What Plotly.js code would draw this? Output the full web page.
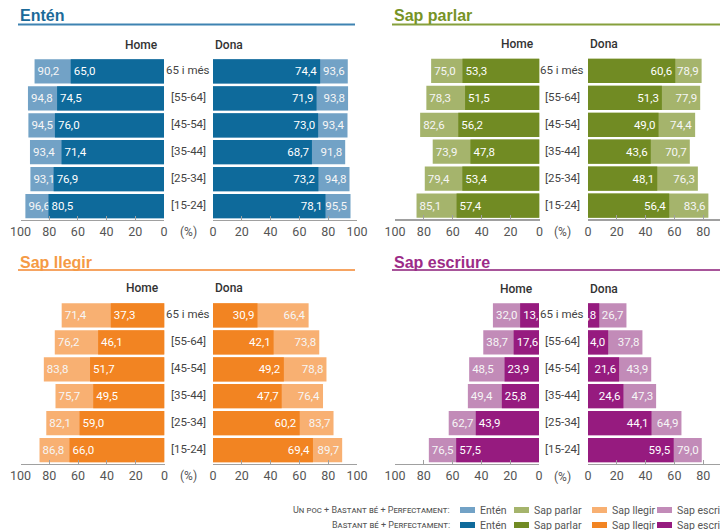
<!DOCTYPE html>
<html><head><meta charset="utf-8">
<script src="https://cdn.plot.ly/plotly-3.0.1.min.js"></script>
<style>html,body{margin:0;padding:0;overflow:hidden;background:#fff}#wrap{width:720px;height:530px;overflow:hidden;position:relative}#chart{width:760px;height:530px}</style>
</head><body><div id="wrap"><div id="chart"></div></div>
<script>
// ---------- DATA ----------
const ageGroups = ['[15-24]','[25-34]','[35-44]','[45-54]','[55-64]','65 i més'];
const panelTitles = ['Entén','Sap parlar','Sap llegir','Sap escriure'];
const sexLabels = ['Home','Dona'];
const tickValues = [0,20,40,60,80,100];
const legendRow1 = 'Un poc + Bastant bé + Perfectament:';
const legendRow2 = 'Bastant bé + Perfectament:';

// "Un poc + Bastant bé + Perfectament" (light)  /  "Bastant bé + Perfectament" (dark)
const entenHomeAny  = [96.6,93.1,93.4,94.5,94.8,90.2];
const entenHomeGood = [80.5,76.9,71.4,76.0,74.5,65.0];
const entenDonaAny  = [95.5,94.8,91.8,93.4,93.8,93.6];
const entenDonaGood = [78.1,73.2,68.7,73.0,71.9,74.4];

const parlarHomeAny  = [85.1,79.4,73.9,82.6,78.3,75.0];
const parlarHomeGood = [57.4,53.4,47.8,56.2,51.5,53.3];
const parlarDonaAny  = [83.6,76.3,70.7,74.4,77.9,78.9];
const parlarDonaGood = [56.4,48.1,43.6,49.0,51.3,60.6];

const llegirHomeAny  = [86.8,82.1,75.7,83.8,76.2,71.4];
const llegirHomeGood = [66.0,59.0,49.5,51.7,46.1,37.3];
const llegirDonaAny  = [89.7,83.7,76.4,78.8,73.8,66.4];
const llegirDonaGood = [69.4,60.2,47.7,49.2,42.1,30.9];

const escriureHomeAny  = [76.5,62.7,49.4,48.5,38.7,32.0];
const escriureHomeGood = [57.5,43.9,25.8,23.9,17.6,13.1];
const escriureDonaAny  = [79.0,64.9,47.3,43.9,37.8,26.7];
const escriureDonaGood = [59.5,44.1,24.6,21.6,14.0,7.8];

// ---------- STYLE ----------
const W = 760, H = 530;
const FONT = 'Roboto,"Liberation Sans",sans-serif';
const TFONT = '"Liberation Sans",Arial,sans-serif';
const lightColors = ['#72a2c6','#a5b46c','#f8b072','#c28bb8'];
const darkColors  = ['#0e6a9b','#718b23','#f28422','#961b7f'];
const titleColors = ['#1b6a99','#779326','#f59a45','#9c2b88'];
const lineColors  = ['#3f83b2','#86a03c','#f6a462','#a8559a'];

const px = x => x / W;
const py = y => 1 - y / H;
const fmt = v => v.toFixed(1).replace('.', ',');

// panel geometry in pixels
const panels = [
  {any:[entenHomeAny,entenDonaAny], good:[entenHomeGood,entenDonaGood], home:[20.5,164], dona:[213,357], y:[58,219.5], titleX:18, lineX:[18,355], titleY:16, lineY:24.5, headY:45, catX:188, pctY:232},
  {any:[parlarHomeAny,parlarDonaAny], good:[parlarHomeGood,parlarDonaGood], home:[395,539.5], dona:[588,732], y:[57.5,219], titleX:392, lineX:[392,760], titleY:16, lineY:24.5, headY:44, catX:562, pctY:232},
  {any:[llegirHomeAny,llegirDonaAny], good:[llegirHomeGood,llegirDonaGood], home:[20.5,164.5], dona:[213,357], y:[302,463.5], titleX:18, lineX:[18,355], titleY:262, lineY:270, headY:288, catX:188, pctY:476},
  {any:[escriureHomeAny,escriureDonaAny], good:[escriureHomeGood,escriureDonaGood], home:[395,539], dona:[588,732], y:[302,463.5], titleX:392, lineX:[392,760], titleY:262, lineY:270, headY:289, catX:562, pctY:477}
];

const data = [];
const layout = {
  width: W, height: H, margin:{l:0,r:0,t:0,b:0},
  paper_bgcolor:'#fff', plot_bgcolor:'rgba(0,0,0,0)',
  showlegend:false, barmode:'overlay', bargap:0.1,
  font:{family:FONT, size:12, color:'#444'},
  annotations:[], shapes:[]
};

panels.forEach((p, pi) => {
  [0,1].forEach(s => {
    const idx = pi*2 + s + 1;
    const xa = idx === 1 ? 'x' : 'x' + idx;
    const ya = idx === 1 ? 'y' : 'y' + idx;
    const xk = idx === 1 ? 'xaxis' : 'xaxis' + idx;
    const yk = idx === 1 ? 'yaxis' : 'yaxis' + idx;
    const dom = s === 0 ? p.home : p.dona;
    layout[xk] = {
      domain:[px(dom[0]), px(dom[1])], anchor:ya,
      range: s === 0 ? [100,0] : [0,100],
      tickvals: tickValues, ticktext: tickValues.map(String),
      ticks:'inside', ticklen:4, tickwidth:1, tickcolor:'#a0a0a0',
      showline:true, linecolor:'#a0a0a0', linewidth:1.5,
      showgrid:false, zeroline:false, fixedrange:true,
      tickfont:{family:FONT, size:12.5, color:'#555'}
    };
    layout[yk] = {
      domain:[py(p.y[1]), py(p.y[0])], anchor:xa,
      type:'category', categoryarray: ageGroups, range:[-0.5,5.5],
      visible:false, fixedrange:true
    };
    const common = {type:'bar', orientation:'h', y:ageGroups, xaxis:xa, yaxis:ya,
      textposition:'inside', insidetextanchor:'end', textangle:0, constraintext:'none',
      cliponaxis:false, hoverinfo:'skip', width:0.9};
    data.push(Object.assign({}, common, {
      x:p.any[s], text:p.any[s].map(fmt),
      marker:{color:lightColors[pi], line:{width:0}},
      insidetextfont:{family:FONT, size:11.5, color:'#f6f6f6'}
    }));
    data.push(Object.assign({}, common, {
      x:p.good[s], text:p.good[s].map(fmt),
      marker:{color:darkColors[pi], line:{width:0}},
      insidetextfont:{family:FONT, size:11.5, color:'#ffffff'}
    }));
    // category labels (centred between both halves)
    if (s === 1) {
      ageGroups.forEach(g => layout.annotations.push({
        xref:'paper', yref:ya, x:px(p.catX), y:g, text:g, showarrow:false,
        xanchor:'center', yanchor:'middle', yshift:1,
        font:{family:FONT, size:11.5, color:'#444'}
      }));
    }
  });
  // panel title + rule
  layout.annotations.push({xref:'paper', yref:'paper', x:px(p.titleX), y:py(p.titleY), text:'<b>'+panelTitles[pi]+'</b>',
    showarrow:false, xanchor:'left', yanchor:'middle', font:{family:TFONT, size:16, color:titleColors[pi]}});
  layout.shapes.push({type:'line', xref:'paper', yref:'paper', x0:px(p.lineX[0]), x1:px(p.lineX[1]), y0:py(p.lineY), y1:py(p.lineY),
    line:{color:lineColors[pi], width:2}});
  // Home / Dona headers
  layout.annotations.push({xref:'paper', yref:'paper', x:px(p.home[1]-4), y:py(p.headY), text:sexLabels[0],
    showarrow:false, xanchor:'right', yanchor:'middle', font:{family:FONT, size:12, weight:500, color:'#333'}});
  layout.annotations.push({xref:'paper', yref:'paper', x:px(p.dona[0]), y:py(p.headY), text:sexLabels[1],
    showarrow:false, xanchor:'left', yanchor:'middle', font:{family:FONT, size:12, weight:500, color:'#333'}});
  // (%)
  layout.annotations.push({xref:'paper', yref:'paper', x:px(p.catX), y:py(p.pctY), text:'(%)',
    showarrow:false, xanchor:'center', yanchor:'middle', font:{family:FONT, size:12, color:'#555'}});
});

// ---------- custom legend ----------
const legRows = [{label:legendRow1, y:510, colors:lightColors}, {label:legendRow2, y:525, colors:darkColors}];
const swatchX = [460, 514, 592, 657];
legRows.forEach(r => {
  layout.annotations.push({xref:'paper', yref:'paper', x:px(452), y:py(r.y), text:r.label,
    showarrow:false, xanchor:'right', yanchor:'middle',
    font:{family:FONT, size:9, variant:'small-caps', color:'#555'}});
  panelTitles.forEach((t, i) => {
    layout.shapes.push({type:'rect', xref:'paper', yref:'paper', x0:px(swatchX[i]), x1:px(swatchX[i]+15),
      y0:py(r.y+3), y1:py(r.y-3), fillcolor:r.colors[i], line:{width:0}});
    layout.annotations.push({xref:'paper', yref:'paper', x:px(swatchX[i]+18), y:py(r.y), text:t,
      showarrow:false, xanchor:'left', yanchor:'middle', font:{family:FONT, size:10.5, color:'#555'}});
  });
});

Plotly.newPlot('chart', data, layout, {staticPlot:true, displayModeBar:false});
</script></body></html>
